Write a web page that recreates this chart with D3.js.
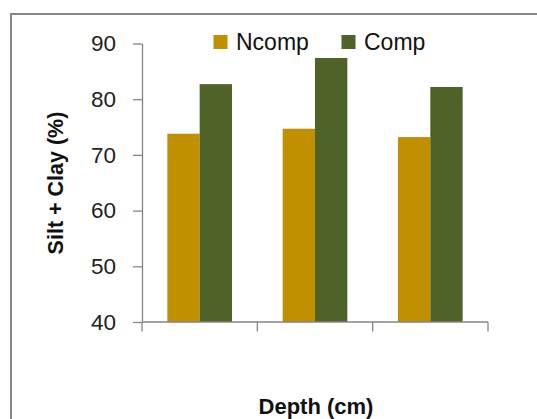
<!DOCTYPE html>
<html>
<head>
<meta charset="utf-8">
<script src="https://cdn.jsdelivr.net/npm/d3@7"></script>
<style>
  html, body { margin: 0; padding: 0; background: #fff; }
  svg { display: block; }
  text { font-family: "Liberation Sans", Arial, sans-serif; }
</style>
</head>
<body>
<script>
// ---- data ----
const categories = ["Depth 1", "Depth 2", "Depth 3"];
const seriesNames = ["Ncomp", "Comp"];
const ncompValues = [73.8, 74.7, 73.2];
const compValues = [82.7, 87.4, 82.2];
const yTicks = [40, 50, 60, 70, 80, 90];
const colors = ["#C09000", "#4F6228"];
const yTitle = "Silt + Clay (%)";
const xTitle = "Depth (cm)";

const seriesValues = [ncompValues, compValues];
const data = categories.map((c, i) => ({
  cat: c,
  values: seriesNames.map((s, j) => ({ series: s, value: seriesValues[j][i] }))
}));

const W = 537, H = 419;
const svg = d3.select("body").append("svg").attr("width", W).attr("height", H);

// chart area frame (extends beyond the visible window)
svg.append("rect")
  .attr("x", 11).attr("y", 14)
  .attr("width", 600).attr("height", 500)
  .attr("fill", "#fff")
  .attr("stroke", "#878787").attr("stroke-width", 2);

const plot = { left: 142, right: 488, top: 43.5, bottom: 322 };

const y = d3.scaleLinear().domain([40, 90]).range([plot.bottom, plot.top]);
const x0 = d3.scaleBand().domain(categories).range([plot.left, plot.right]).paddingInner(0).paddingOuter(0);
const x1 = d3.scaleBand().domain(seriesNames).range([0, x0.bandwidth()]).paddingInner(0).paddingOuter(0.784);
const color = d3.scaleOrdinal().domain(seriesNames).range(colors);

// bars
const groups = svg.append("g").selectAll("g").data(data).join("g")
  .attr("transform", d => `translate(${x0(d.cat)},0)`);
groups.selectAll("rect").data(d => d.values).join("rect")
  .attr("x", d => x1(d.series))
  .attr("y", d => y(d.value))
  .attr("width", x1.bandwidth())
  .attr("height", d => y(40) - y(d.value))
  .attr("fill", d => color(d.series));

// y axis
const yAxis = svg.append("g")
  .attr("transform", `translate(${plot.left},0)`)
  .call(d3.axisLeft(y).tickValues(yTicks).tickSize(9).tickSizeOuter(0).tickPadding(17));
yAxis.select(".domain").attr("stroke", "#868686").attr("stroke-width", 1.3);
yAxis.selectAll(".tick line").attr("stroke", "#868686").attr("stroke-width", 1.3);
yAxis.selectAll(".tick text")
  .attr("font-size", 22.5)
  .attr("font-family", "'Liberation Sans', Arial, sans-serif")
  .attr("fill", "#222");

// x axis (Excel style: ticks at category boundaries, no labels)
const xAxis = svg.append("g");
xAxis.append("line")
  .attr("x1", plot.left).attr("x2", plot.right)
  .attr("y1", plot.bottom).attr("y2", plot.bottom)
  .attr("stroke", "#868686").attr("stroke-width", 1.3);
const boundaries = categories.map(c => x0(c)).concat([x0.range()[1]]);
xAxis.selectAll("line.tick").data(boundaries).join("line")
  .attr("class", "tick")
  .attr("x1", d => d).attr("x2", d => d)
  .attr("y1", plot.bottom).attr("y2", plot.bottom + 9.5)
  .attr("stroke", "#868686").attr("stroke-width", 1.3);

// axis titles
svg.append("text")
  .attr("transform", `translate(63,183) rotate(-90)`)
  .attr("text-anchor", "middle")
  .attr("font-size", 21.5).attr("font-weight", "bold").attr("fill", "#111")
  .text(yTitle);
svg.append("text")
  .attr("x", 316).attr("y", 414)
  .attr("text-anchor", "middle")
  .attr("font-size", 22).attr("font-weight", "bold").attr("fill", "#111")
  .text(xTitle);

// legend
const legendX = [213.5, 341.5];
const legend = svg.append("g").selectAll("g").data(seriesNames).join("g")
  .attr("transform", (d, i) => `translate(${legendX[i]},35)`);
legend.append("rect")
  .attr("width", 14).attr("height", 14)
  .attr("fill", d => color(d));
legend.append("text")
  .attr("x", 22.5).attr("y", 15)
  .attr("font-size", 23).attr("fill", "#111")
  .text(d => d);
</script>
</body>
</html>
